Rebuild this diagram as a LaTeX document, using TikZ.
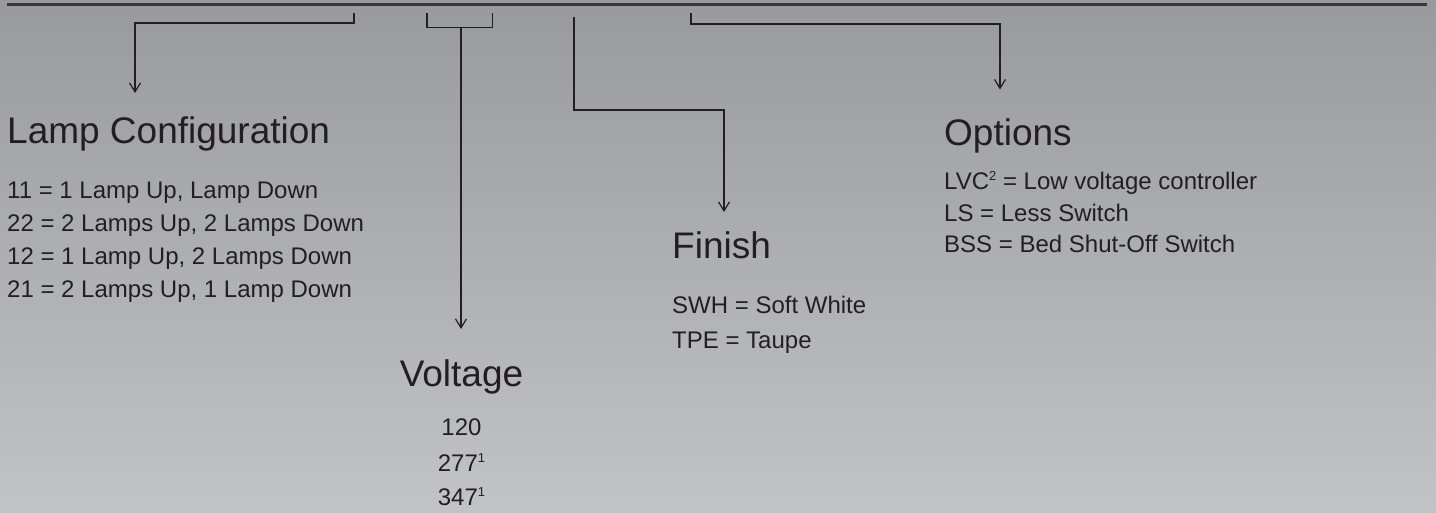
\documentclass[tikz,border=0pt]{standalone}
\usepackage{fontspec}
\setmainfont{Liberation Sans}
\usetikzlibrary{arrows.meta}
\definecolor{ink}{HTML}{231F20}
\definecolor{bgtop}{HTML}{999A9E}
\definecolor{bgbot}{HTML}{C2C3C7}
\tikzset{
  conn/.style={draw=ink, line width=1.2pt},
  arr/.style={conn, -{Straight Barb[length=9pt,width=11pt,line width=1.2pt]}},
  title/.style={inner sep=0pt, text=ink, font=\fontsize{37}{40}\selectfont},
  item/.style={inner sep=0pt, text=ink, font=\fontsize{24}{26}\selectfont},
}
\newcommand{\supr}[1]{\raisebox{0.36em}{\fontsize{13}{14}\selectfont #1}}
\begin{document}
\begin{tikzpicture}[x=1pt,y=-1pt]
\useasboundingbox (0,0) rectangle (1436,512);
\shade[top color=bgtop, bottom color=bgbot] (0,0) rectangle (1436,512);
% top rule
\coordinate (ruleL) at (7,4.5);
\coordinate (ruleR) at (1427,4.5);
\draw[draw=ink!90, line width=2.5pt] (ruleL) -- (ruleR);
% Lamp configuration connector
\coordinate (lampS) at (354,13);
\coordinate (lampK) at (354,23);
\coordinate (lampT) at (135,93);
\draw[arr] (lampS) -- (lampK) -| (lampT);
% Voltage bracket
\coordinate (voltL) at (427,13);
\coordinate (voltR) at (492.5,13);
\coordinate (voltM) at (461,27.5);
\coordinate (voltT) at (461,329);
\draw[conn] (voltL) |- (voltM) -| (voltR);
\draw[arr] (voltM) -- (voltT);
% Finish connector
\coordinate (finS) at (574,17);
\coordinate (finK) at (724,110);
\coordinate (finT) at (724,212);
\draw[arr] (finS) |- (finK) -- (finT);
% Options connector
\coordinate (optS) at (691,13);
\coordinate (optK) at (1000,24);
\coordinate (optT) at (1000,89.5);
\draw[arr] (optS) |- (optK) -- (optT);
% Lamp configuration texts
\node[title, anchor=base west] (lampH) at (7,143) {Lamp Configuration};
\node[item, anchor=base west] (lamp1) at (7,198) {11 = 1 Lamp Up, Lamp Down};
\node[item, anchor=base west] (lamp2) at (7,231) {22 = 2 Lamps Up, 2 Lamps Down};
\node[item, anchor=base west] (lamp3) at (7,264) {12 = 1 Lamp Up, 2 Lamps Down};
\node[item, anchor=base west] (lamp4) at (7,297) {21 = 2 Lamps Up, 1 Lamp Down};
% Voltage texts
\node[title, anchor=base] (voltH) at (461.5,386) {Voltage};
\node[item, anchor=base] (volt1) at (461.5,435) {120};
\node[item, anchor=base] (volt2) at (461.5,471) {277\supr{1}};
\node[item, anchor=base] (volt3) at (461.5,505.5) {347\supr{1}};
% Finish texts
\node[title, anchor=base west] (finH) at (672,258) {Finish};
\node[item, anchor=base west] (fin1) at (672,313) {SWH = Soft White};
\node[item, anchor=base west] (fin2) at (672,348) {TPE = Taupe};
% Options texts
\node[title, anchor=base west] (optH) at (944,145) {Options};
\node[item, anchor=base west] (opt1) at (944,189) {LVC\supr{2} = Low voltage controller};
\node[item, anchor=base west] (opt2) at (944,221) {LS = Less Switch};
\node[item, anchor=base west] (opt3) at (944,252.5) {BSS = Bed Shut-Off Switch};
\end{tikzpicture}
\end{document}
